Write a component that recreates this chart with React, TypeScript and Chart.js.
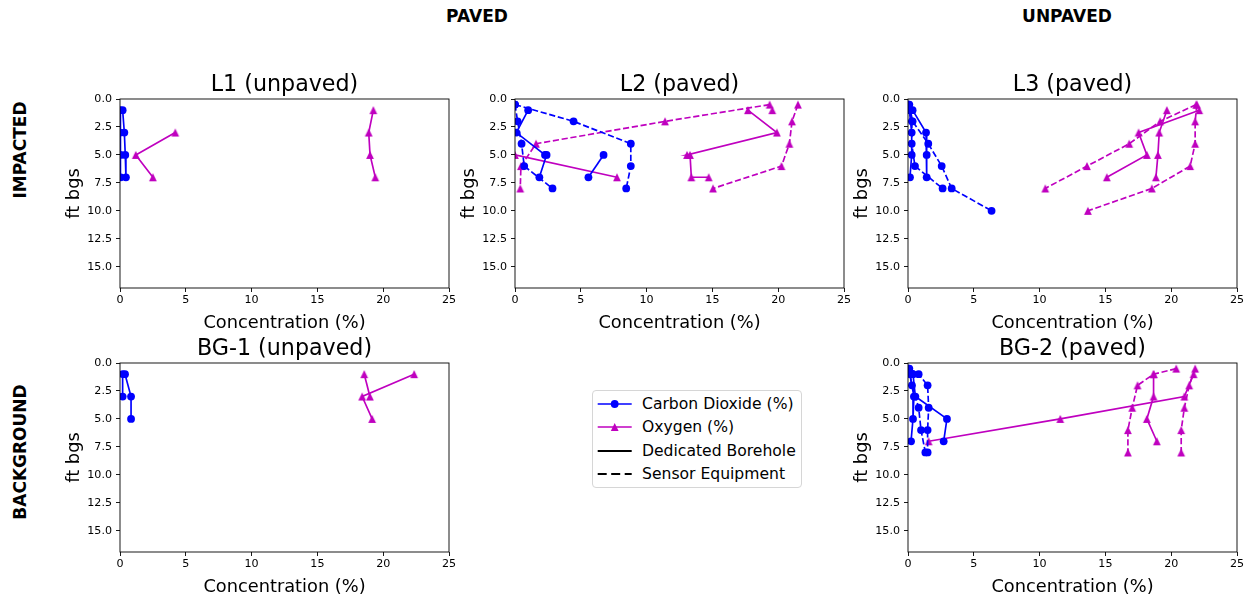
import React, { useEffect, useRef } from 'react';
import { Chart, registerables } from 'chart.js';

Chart.register(...registerables);

// ---------------- data ----------------
const X_TICKS = [0, 5, 10, 15, 20, 25];
const Y_TICKS = [0, 2.5, 5, 7.5, 10, 12.5, 15];
const X_MAX = 25;
const Y_MAX = 16.9;

const DEPTH_BORE = [1, 3, 5, 7];
const DEPTH_SENSOR = [0.5, 2, 4, 6, 8];
const DEPTH_SENSOR_DEEP = [0.5, 2, 4, 6, 8, 10];
const DEPTH_SENSOR_BG2 = [0.5, 1, 2, 4, 6, 8];
const DEPTH_BORE_L2 = [1, 3, 5, 5, 7, 7];

// L1 (unpaved)
const L1_CO2_BORE_A = [0.2, 0.33, 0.4, 0.45];
const L1_CO2_BORE_B = [0.0, 0.0, 0.05, 0.05];
const L1_O2_BORE_A = [19.25, 18.9, 19.0, 19.4];
const L1_O2_BORE_B = [null, 4.2, 1.2, 2.5];

// L2 (paved)
const L2_CO2_SENSOR_A = [0.0, 4.45, 8.8, 8.8, 8.45];
const L2_CO2_SENSOR_B = [0.0, 0.2, 0.5, 0.7, 2.85];
const L2_CO2_BORE_A = [1.0, 0.1, 2.28, 2.4, 1.85, null];
const L2_CO2_BORE_B = [null, null, 6.73, 5.58];
const L2_O2_SENSOR_A = [21.5, 21.05, 20.85, 20.25, 15.05];
const L2_O2_SENSOR_B = [19.35, 11.4, 1.6, 0.45, 0.4];
const L2_O2_BORE_A = [17.7, 19.9, 13.07, 13.3, 13.4, 14.72];
const L2_O2_BORE_B = [19.55, null, 0.0, 7.75];

// L3 (paved)
const L3_CO2_SENSOR_A = [0.1, 0.35, 1.54, 2.56, 3.32, 6.35];
const L3_CO2_SENSOR_B = [0.05, 0.3, 0.28, 0.53, 2.63];
const L3_CO2_BORE_A = [0.35, 1.37, 1.42, 1.42];
const L3_CO2_BORE_B = [0.1, 0.28, 0.28, 0.15];
const L3_O2_SENSOR_A = [21.95, 21.82, 21.82, 21.44, 18.53, 13.67];
const L3_O2_SENSOR_B = [21.9, 19.16, 16.81, 13.6, 10.43];
const L3_O2_BORE_A = [22.13, 17.52, 18.15, 15.11];
const L3_O2_BORE_B = [19.67, 19.09, 18.99, 18.84];

// BG-1 (unpaved)
const BG1_CO2_BORE_A = [0.38, 0.84, 0.84, null];
const BG1_CO2_BORE_B = [0.2, 0.2, null, null];
const BG1_O2_BORE_A = [22.35, 18.4, 19.16, null];
const BG1_O2_BORE_B = [18.56, 18.99, null, null];

// BG-2 (paved)
const BG2_CO2_SENSOR_A = [0.1, 0.81, 1.49, 1.57, 1.49, 1.49];
const BG2_CO2_SENSOR_B = [0.05, 0.3, 0.81, 0.99, 1.32];
const BG2_CO2_BORE_A = [0.38, 0.56, 2.96, 2.71];
const BG2_CO2_BORE_B = [0.15, 0.45, 0.38, 0.23];
const BG2_O2_SENSOR_A = [20.38, 18.66, 17.44, 17.04, 16.71, 16.71];
const BG2_O2_SENSOR_B = [21.82, 21.37, 21.0, 20.76, 20.76];
const BG2_O2_BORE_A = [21.7, 21.0, 11.57, 1.57];
const BG2_O2_BORE_B = [18.66, 18.66, 18.15, 18.91];

// ---------------- styling / layout ----------------
const FONT = "'DejaVu Sans', sans-serif";
const CO2_COLOR = '#0000ff';
const O2_COLOR = '#bf00bf';
const LINE_W = 1.67;
const DASH = [6.2, 2.7];

type Gas = 'co2' | 'o2';
type Kind = 'bore' | 'sensor';
type Series = { gas: Gas; kind: Kind; depths: number[]; values: (number | null)[] };

const S = (gas: Gas, kind: Kind, depths: number[], values: (number | null)[]): Series => ({ gas, kind, depths, values });

const PLOT_W = 329;
const PLOT_H = 189;
const M_L = 95;
const M_T = 45;
const M_R = 20;
const M_B = 50;

const PANELS = [
  {
    title: 'L1 (unpaved)', left: 120, top: 99,
    series: [
      S('co2', 'bore', DEPTH_BORE, L1_CO2_BORE_B),
      S('co2', 'bore', DEPTH_BORE, L1_CO2_BORE_A),
      S('o2', 'bore', DEPTH_BORE, L1_O2_BORE_A),
      S('o2', 'bore', DEPTH_BORE, L1_O2_BORE_B),
    ],
  },
  {
    title: 'L2 (paved)', left: 515, top: 99,
    series: [
      S('co2', 'bore', DEPTH_BORE_L2, L2_CO2_BORE_A),
      S('co2', 'bore', DEPTH_BORE, L2_CO2_BORE_B),
      S('co2', 'sensor', DEPTH_SENSOR, L2_CO2_SENSOR_A),
      S('co2', 'sensor', DEPTH_SENSOR, L2_CO2_SENSOR_B),
      S('o2', 'bore', DEPTH_BORE_L2, L2_O2_BORE_A),
      S('o2', 'bore', DEPTH_BORE, L2_O2_BORE_B),
      S('o2', 'sensor', DEPTH_SENSOR, L2_O2_SENSOR_A),
      S('o2', 'sensor', DEPTH_SENSOR, L2_O2_SENSOR_B),
    ],
  },
  {
    title: 'L3 (paved)', left: 908, top: 99,
    series: [
      S('co2', 'bore', DEPTH_BORE, L3_CO2_BORE_A),
      S('co2', 'bore', DEPTH_BORE, L3_CO2_BORE_B),
      S('co2', 'sensor', DEPTH_SENSOR_DEEP, L3_CO2_SENSOR_A),
      S('co2', 'sensor', DEPTH_SENSOR, L3_CO2_SENSOR_B),
      S('o2', 'bore', DEPTH_BORE, L3_O2_BORE_A),
      S('o2', 'bore', DEPTH_BORE, L3_O2_BORE_B),
      S('o2', 'sensor', DEPTH_SENSOR_DEEP, L3_O2_SENSOR_A),
      S('o2', 'sensor', DEPTH_SENSOR, L3_O2_SENSOR_B),
    ],
  },
  {
    title: 'BG-1 (unpaved)', left: 120, top: 363,
    series: [
      S('co2', 'bore', DEPTH_BORE, BG1_CO2_BORE_A),
      S('co2', 'bore', DEPTH_BORE, BG1_CO2_BORE_B),
      S('o2', 'bore', DEPTH_BORE, BG1_O2_BORE_A),
      S('o2', 'bore', DEPTH_BORE, BG1_O2_BORE_B),
    ],
  },
  {
    title: 'BG-2 (paved)', left: 908, top: 363,
    series: [
      S('co2', 'bore', DEPTH_BORE, BG2_CO2_BORE_A),
      S('co2', 'bore', DEPTH_BORE, BG2_CO2_BORE_B),
      S('co2', 'sensor', DEPTH_SENSOR_BG2, BG2_CO2_SENSOR_A),
      S('co2', 'sensor', DEPTH_SENSOR, BG2_CO2_SENSOR_B),
      S('o2', 'bore', DEPTH_BORE, BG2_O2_BORE_A),
      S('o2', 'bore', DEPTH_BORE, BG2_O2_BORE_B),
      S('o2', 'sensor', DEPTH_SENSOR_BG2, BG2_O2_SENSOR_A),
      S('o2', 'sensor', DEPTH_SENSOR, BG2_O2_SENSOR_B),
    ],
  },
];

function makeTriangle(color: string, size: number): HTMLCanvasElement {
  const s = Math.ceil(size) + 2;
  const c = document.createElement('canvas');
  c.width = s;
  c.height = s;
  const ctx = c.getContext('2d')!;
  const cx = s / 2;
  const cy = s / 2;
  const h = size / 2;
  ctx.fillStyle = color;
  ctx.beginPath();
  ctx.moveTo(cx, cy - h);
  ctx.lineTo(cx - h, cy + h);
  ctx.lineTo(cx + h, cy + h);
  ctx.closePath();
  ctx.fill();
  return c;
}

const boxPlugin = {
  id: 'axesBox',
  afterDatasetsDraw(chart: any) {
    const { ctx, chartArea: a } = chart;
    ctx.save();
    ctx.strokeStyle = '#000';
    ctx.lineWidth = 0.9;
    ctx.strokeRect(a.left, a.top, a.right - a.left, a.bottom - a.top);
    ctx.restore();
  },
};

const TITLE_LH = 1.15;
const TITLE_SIZE = 22.2;
const TITLE_PAD_TOP = 18.5;

function Panel({ panel }: { panel: typeof PANELS[number] }) {
  const ref = useRef<HTMLCanvasElement | null>(null);
  useEffect(() => {
    if (!ref.current) return;
    const tri = makeTriangle(O2_COLOR, 7.8);
    const datasets = panel.series.map((s) => {
      const color = s.gas === 'co2' ? CO2_COLOR : O2_COLOR;
      return {
        data: s.depths.map((d, i) => ({ x: s.values[i], y: d })),
        borderColor: color,
        backgroundColor: color,
        borderWidth: LINE_W,
        borderDash: s.kind === 'sensor' ? DASH : [],
        pointStyle: s.gas === 'co2' ? 'circle' : tri,
        pointRadius: 3.9,
        pointBorderWidth: 0,
        pointBackgroundColor: color,
        pointHoverRadius: 3.9,
        tension: 0,
        spanGaps: false,
        clip: 0,
      };
    });
    const tickFont = { family: FONT, size: 11.1 };
    const grid = { display: true, drawOnChartArea: false, drawTicks: true, tickLength: 4, color: '#000', lineWidth: 0.9 };
    const chart = new Chart(ref.current, {
      type: 'line',
      data: { datasets: datasets as any },
      plugins: [boxPlugin],
      options: {
        indexAxis: 'y',
        animation: false,
        responsive: false,
        events: [],
        layout: { padding: { left: 0, top: 0, right: M_R, bottom: 0 }, autoPadding: false } as any,
        plugins: {
          legend: { display: false },
          tooltip: { enabled: false },
          title: {
            display: true,
            text: panel.title,
            fullSize: false,
            color: '#000',
            font: { family: FONT, size: TITLE_SIZE, weight: 'normal', lineHeight: TITLE_LH },
            padding: { top: TITLE_PAD_TOP, bottom: Math.max(0, M_T - TITLE_SIZE * TITLE_LH - TITLE_PAD_TOP) },
          },
        },
        scales: {
          x: {
            type: 'linear',
            position: 'bottom',
            min: 0,
            max: X_MAX,
            afterFit: (s: any) => { s.height = M_B; },
            afterBuildTicks: (s: any) => { s.ticks = X_TICKS.map((v) => ({ value: v })); },
            ticks: { font: tickFont, color: '#000', padding: 1, maxRotation: 0, autoSkip: false, callback: (v: any) => String(v) },
            grid,
            border: { display: false },
            title: {
              display: true,
              text: 'Concentration (%)',
              color: '#000',
              font: { family: FONT, size: 17.8, lineHeight: 1.2 },
              padding: { top: 0, bottom: 4 },
            },
          },
          y: {
            type: 'linear',
            position: 'left',
            min: 0,
            max: Y_MAX,
            reverse: true,
            afterFit: (s: any) => { s.width = M_L; },
            afterBuildTicks: (s: any) => { s.ticks = Y_TICKS.map((v) => ({ value: v })); },
            ticks: { font: tickFont, color: '#000', padding: 4, autoSkip: false, callback: (v: any) => Number(v).toFixed(1) },
            grid,
            border: { display: false },
            title: {
              display: true,
              text: 'ft bgs',
              color: '#000',
              font: { family: FONT, size: 17.8, lineHeight: 1.2 },
              padding: { top: 38.3, bottom: 0 },
            },
          },
        },
      } as any,
    });
    return () => chart.destroy();
  }, [panel]);
  const w = PLOT_W + M_L + M_R;
  const h = PLOT_H + M_T + M_B;
  return (
    <canvas
      ref={ref}
      width={w}
      height={h}
      style={{ position: 'absolute', left: panel.left - M_L, top: panel.top - M_T, width: w, height: h }}
    />
  );
}

function LegendHandle({ color, dashed, marker }: { color: string; dashed?: boolean; marker?: 'circle' | 'triangle' }) {
  return (
    <svg width={36} height={12} style={{ position: 'absolute', left: 4, top: -6 }}>
      <line x1={0.7} y1={6} x2={34.7} y2={6} stroke={color} strokeWidth={marker ? 1.67 : 1.9} strokeDasharray={dashed ? '9 4.5' : undefined} />
      {marker === 'circle' && <circle cx={17.7} cy={6} r={3.9} fill={color} />}
      {marker === 'triangle' && <polygon points="17.7,2.1 13.8,9.9 21.6,9.9" fill={color} />}
    </svg>
  );
}

const LEGEND_ROWS = [
  { label: 'Carbon Dioxide (%)', color: CO2_COLOR, marker: 'circle' as const, dashed: false },
  { label: 'Oxygen (%)', color: O2_COLOR, marker: 'triangle' as const, dashed: false },
  { label: 'Dedicated Borehole', color: '#000', marker: undefined, dashed: false },
  { label: 'Sensor Equipment', color: '#000', marker: undefined, dashed: true },
];

const textBase: React.CSSProperties = { position: 'absolute', fontFamily: FONT, color: '#000', whiteSpace: 'nowrap' };
const HEADER_SIZE = 17;

export default function App() {
  return (
    <div style={{ position: 'absolute', left: 0, top: 0, width: 1253, height: 602, background: '#fff', overflow: 'hidden' }}>
      <div style={{ ...textBase, left: 477, top: 16, fontSize: HEADER_SIZE, fontWeight: 'bold', transform: 'translate(-50%, -50%)' }}>PAVED</div>
      <div style={{ ...textBase, left: 1067, top: 16, fontSize: HEADER_SIZE, fontWeight: 'bold', transform: 'translate(-50%, -50%)' }}>UNPAVED</div>
      <div style={{ ...textBase, left: 20, top: 150, fontSize: HEADER_SIZE, fontWeight: 'bold', transform: 'translate(-50%, -50%) rotate(-90deg)' }}>IMPACTED</div>
      <div style={{ ...textBase, left: 20, top: 452, fontSize: HEADER_SIZE, fontWeight: 'bold', transform: 'translate(-50%, -50%) rotate(-90deg)' }}>BACKGROUND</div>
      {PANELS.map((p) => (
        <Panel key={p.title} panel={p} />
      ))}
      <div
        style={{
          position: 'absolute', left: 592, top: 390, width: 210, height: 98, boxSizing: 'border-box',
          border: '1px solid #d6d6d6', borderRadius: 4, background: '#fff',
        }}
      >
        {LEGEND_ROWS.map((r, i) => {
          const cy = 13 + i * 23.3;
          return (
            <div key={r.label} style={{ position: 'absolute', left: 0, top: cy, width: 0, height: 0 }}>
              <LegendHandle color={r.color} dashed={r.dashed} marker={r.marker} />
              <div style={{ ...textBase, left: 49, top: -10, height: 20, lineHeight: '20px', fontSize: 15.6 }}>{r.label}</div>
            </div>
          );
        })}
      </div>
    </div>
  );
}
